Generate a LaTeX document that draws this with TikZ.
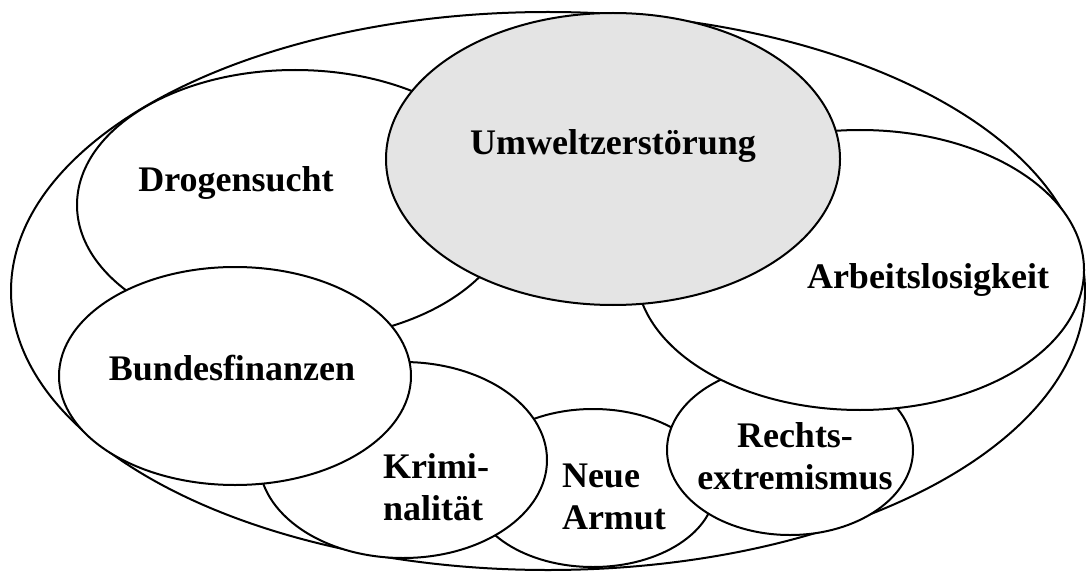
\documentclass[tikz,border=0pt]{standalone}
\usepackage{fontspec}
\setmainfont{Liberation Serif}
\usetikzlibrary{shapes.geometric}
\definecolor{umweltgray}{RGB}{228,228,228}
\begin{document}
\begin{tikzpicture}[x=1pt,y=-1pt,
  blob/.style={draw=black,line width=2pt,fill=white,ellipse,inner sep=0pt,outer sep=0pt},
  lbl/.style={inner sep=0pt,outer sep=0pt,font=\fontsize{36}{42}\selectfont\bfseries}]
\fill[white] (0,0) rectangle (1086,572);
\useasboundingbox (0,0) rectangle (1086,572);
% outer ellipse
\node[blob,minimum width=1074pt,minimum height=558pt] (outer) at (548,291) {};
% ellipses, back to front
\node[blob,minimum width=244pt,minimum height=158pt] (armut) at (593,488) {};
\node[blob,minimum width=246pt,minimum height=170pt] (rechts) at (790,450) {};
\node[blob,minimum width=448pt,minimum height=280pt] (arbeit) at (860,270) {};
\node[blob,minimum width=288pt,minimum height=196pt] (krimi) at (403,460) {};
\node[blob,minimum width=436pt,minimum height=270pt] (drogen) at (295,205) {};
\node[blob,minimum width=352pt,minimum height=218pt] (bund) at (235,376) {};
\node[blob,fill=umweltgray,minimum width=454pt,minimum height=292pt] (umwelt) at (613,159) {};
% labels
\node[lbl,anchor=base] (umweltT) at (613,155) {Umweltzerstörung};
\node[lbl,anchor=base] (drogenT) at (236,192) {Drogensucht};
\node[lbl,anchor=base] (bundT) at (232,380) {Bundesfinanzen};
\node[lbl,anchor=base] (arbeitT) at (928,288) {Arbeitslosigkeit};
\node[lbl,anchor=base west] (krimiT) at (383,478) {\begin{tabular}[t]{@{}l@{}}Krimi-\\nalität\end{tabular}};
\node[lbl,anchor=base west] (armutT) at (562,487) {\begin{tabular}[t]{@{}l@{}}Neue\\Armut\end{tabular}};
\node[lbl,anchor=base] (rechtsT) at (795,447) {\begin{tabular}[t]{@{}c@{}}Rechts-\\extremismus\end{tabular}};
\end{tikzpicture}
\end{document}
